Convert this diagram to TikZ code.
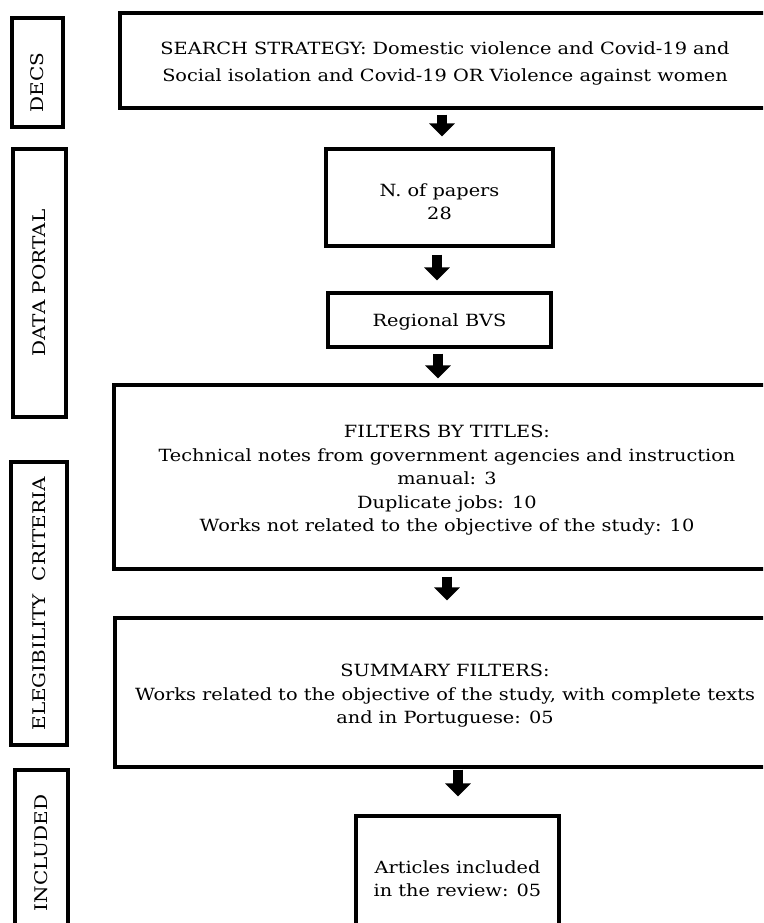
\documentclass[tikz,border=0pt]{standalone}
\usepackage{fontspec}
\setmainfont{DejaVu Serif}[FakeStretch=1.15]
\usetikzlibrary{arrows.meta}

\begin{document}
\begin{tikzpicture}[x=1pt,y=-1pt,
  box/.style={draw, line width=3.2pt, inner sep=0pt},
  boxtext/.style={inner sep=0pt, align=center, font=\fontsize{16.8}{23.5}\selectfont},
  sidebox/.style={draw, line width=3.2pt, inner sep=0pt},
  sidelabel/.style={rotate=90, inner sep=0pt, font=\fontsize{17.4}{20}\selectfont},
  flow/.style={line width=10pt, -{Triangle[width=25pt,length=13pt]}}
]
\useasboundingbox (0,0) rectangle (763,923);
\clip (0,0) rectangle (763,923);

% stage labels on the left
\node[sidebox, minimum width=51pt, minimum height=109pt] (decs) at (37.5,72.5) {};
\node[sidelabel] (decsT) at (37.5,82.5) {DECS};
\node[sidebox, minimum width=53pt, minimum height=268pt] (portal) at (39.5,283) {};
\node[sidelabel] (portalT) at (39.5,283) {DATA PORTAL};
\node[sidebox, minimum width=56pt, minimum height=283pt] (elig) at (39,603.5) {};
\node[sidelabel] (eligT) at (39,604) {ELEGIBILITY\ \ CRITERIA};
\node[sidebox, minimum width=53pt, minimum height=170pt] (incl) at (41.5,855) {};
\node[sidelabel] (inclT) at (41.5,853) {INCLUDED};

% flow boxes
\node[box, minimum width=650pt, minimum height=95pt] (search) at (445,60.5) {};
\node[boxtext, font=\fontsize{16.8}{27}\selectfont] (searchT) at (445,63.5)
  {SEARCH STRATEGY: Domestic violence and Covid-19 and\\Social isolation and Covid-19 OR Violence against women};

\node[box, minimum width=227pt, minimum height=97pt] (npapers) at (439.5,197.5) {};
\node[boxtext] (npapersT) at (439.5,201.5) {N. of papers\\28};

\node[box, minimum width=223pt, minimum height=54pt] (bvs) at (439.5,320) {};
\node[boxtext] (bvsT) at (439.5,321.5) {Regional BVS};

\node[box, minimum width=668pt, minimum height=184pt] (filters) at (448,477) {};
\node[boxtext] (filtersT) at (447,480.5)
  {FILTERS BY TITLES:\\Technical notes from government agencies and instruction\\manual: 3\\Duplicate jobs: 10\\Works not related to the objective of the study: 10};

\node[box, minimum width=660pt, minimum height=149pt] (summary) at (445,692.5) {};
\node[boxtext] (summaryT) at (445,696)
  {SUMMARY FILTERS:\\Works related to the objective of the study, with complete texts\\and in Portuguese: 05};

\node[box, minimum width=203pt, minimum height=124pt] (articles) at (457.5,878) {};
\node[boxtext] (articlesT) at (457.5,878.5) {Articles included\\in the review: 05};

% arrow columns
\coordinate (c1) at (442,0);
\coordinate (c2) at (437,0);
\coordinate (c3) at (438,0);
\coordinate (c4) at (447,0);
\coordinate (c5) at (458,0);

\draw[flow, shorten <=5pt, shorten >=11pt] (search.south -| c1) -- (npapers.north -| c1);
\draw[flow, shorten <=7pt, shorten >=11pt] (npapers.south -| c2) -- (bvs.north -| c2);
\draw[flow, shorten <=5pt, shorten >=5pt] (bvs.south -| c3) -- (filters.north -| c3);
\draw[flow, shorten <=6pt, shorten >=16pt] (filters.south -| c4) -- (summary.north -| c4);
\draw[flow, shorten <=1pt, shorten >=18pt] (summary.south -| c5) -- (articles.north -| c5);
\end{tikzpicture}
\end{document}
